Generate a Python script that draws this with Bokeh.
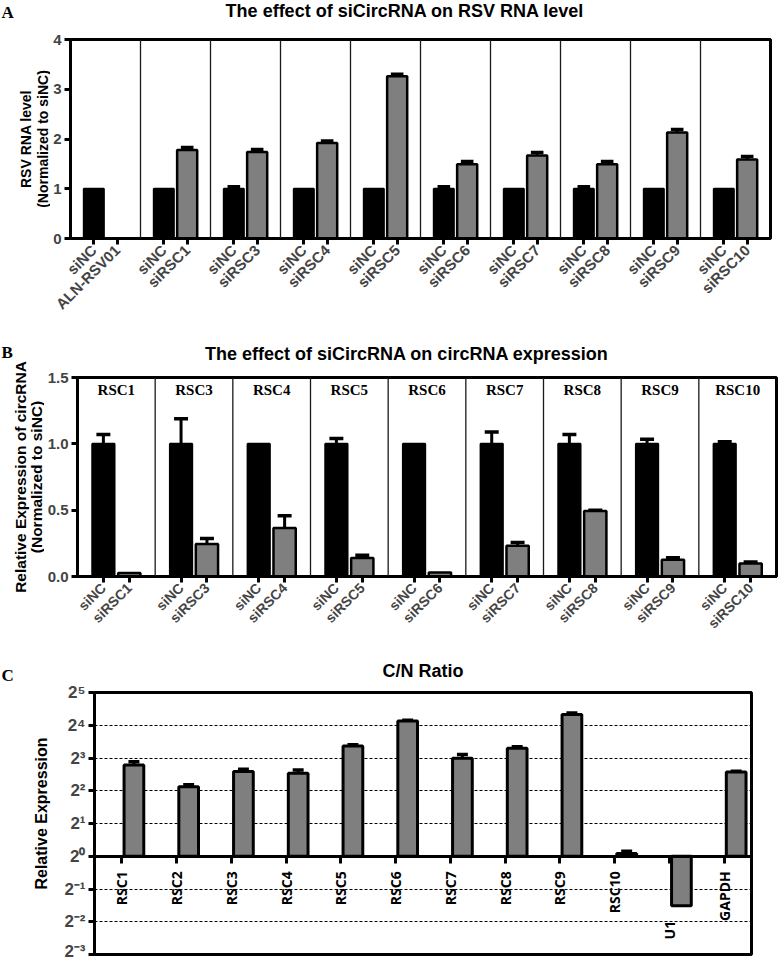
import math
from bokeh.plotting import figure
from bokeh.layouts import column, row
from bokeh.models import Range1d, FixedTicker, Span, ColumnDataSource, FactorRange
from bokeh.transform import dodge
from bokeh.core.properties import value
from bokeh.embed import file_html
from bokeh.resources import INLINE

# ---------------- data ----------------
# Panel A: RSV RNA level
a_tick_labels = ["siNC", "ALN-RSV01", "siNC", "siRSC1", "siNC", "siRSC3", "siNC", "siRSC4",
                 "siNC", "siRSC5", "siNC", "siRSC6", "siNC", "siRSC7", "siNC", "siRSC8",
                 "siNC", "siRSC9", "siNC", "siRSC10"]
a_nc = [1.0, 1.0, 1.0, 1.0, 1.0, 1.0, 1.0, 1.0, 1.0, 1.0]
a_nc_err = [0.0, 0.0, 0.04, 0.0, 0.0, 0.04, 0.0, 0.04, 0.0, 0.0]
a_si = [0.0, 1.78, 1.74, 1.92, 3.26, 1.49, 1.67, 1.49, 2.13, 1.59]
a_si_err = [0.0, 0.05, 0.05, 0.04, 0.04, 0.06, 0.06, 0.06, 0.06, 0.06]
a_title = "The effect of siCircRNA on RSV RNA level"
a_ylabel = ["RSV RNA level", "(Normalized to siNC)"]

# Panel B: circRNA expression
b_groups = ["RSC1", "RSC3", "RSC4", "RSC5", "RSC6", "RSC7", "RSC8", "RSC9", "RSC10"]
b_tick_labels = ["siNC", "siRSC1", "siNC", "siRSC3", "siNC", "siRSC4", "siNC", "siRSC5",
                 "siNC", "siRSC6", "siNC", "siRSC7", "siNC", "siRSC8", "siNC", "siRSC9",
                 "siNC", "siRSC10"]
b_nc = [1.0, 1.0, 1.0, 1.0, 1.0, 1.0, 1.0, 1.0, 1.0]
b_nc_err = [0.07, 0.19, 0.0, 0.04, 0.0, 0.09, 0.07, 0.035, 0.015]
b_si = [0.026, 0.245, 0.365, 0.139, 0.03, 0.232, 0.494, 0.126, 0.098]
b_si_err = [0.0, 0.042, 0.093, 0.021, 0.0, 0.025, 0.006, 0.015, 0.012]
b_title = "The effect of siCircRNA on circRNA expression"
b_ylabel = ["Relative Expression of circRNA", "(Normalized to siNC)"]

# Panel C: C/N ratio
c_cats = ["RSC1", "RSC2", "RSC3", "RSC4", "RSC5", "RSC6", "RSC7", "RSC8", "RSC9",
          "RSC10", "U1", "GAPDH"]
c_vals = [6.9, 4.35, 6.0, 5.8, 10.3, 17.5, 7.95, 9.85, 20.1, 1.06, 0.35, 5.94]
c_err = [0.5, 0.2, 0.3, 0.4, 0.3, 0.3, 0.65, 0.3, 0.6, 0.05, 0.0, 0.1]
c_exps = [5, 4, 3, 2, 1, 0, -1, -2, -3]
c_exp_labels = ["2⁵", "2⁴", "2³", "2²", "2¹", "2⁰", "2⁻¹", "2⁻²", "2⁻³"]
c_title = "C/N Ratio"
c_ylabel = ["Relative Expression"]

SANS = "Liberation Sans"
SERIF = "Liberation Serif"
GRAY = "#7f7f7f"
TOTAL_W = 780


def blank(width, height):
    p = figure(width=width, height=height, x_range=Range1d(0, width), y_range=Range1d(0, height),
               min_border_left=0, min_border_right=0, min_border_top=0, min_border_bottom=0,
               x_axis_location=None, y_axis_location=None, output_backend="svg",
               toolbar_location=None, tools="")
    p.outline_line_color = None
    p.grid.visible = False
    return p


def header(width, height, title, title_cx, title_cy):
    p = blank(width, height)
    p.text(x=[title_cx], y=[height - title_cy], text=[title], text_font=value(SANS),
           text_font_style="bold", text_font_size="18px", text_align="center",
           text_baseline="middle", text_color="black")
    return p


def strip(width, height, letter, letter_top, lines, xs, cy_from_top, size):
    p = blank(width, height)
    p.text(x=[1], y=[height - letter_top], text=[letter], text_font=value(SERIF),
           text_font_style="bold", text_font_size="17px", text_align="left",
           text_baseline="top", text_color="black")
    for line, x in zip(lines, xs):
        p.text(x=[x], y=[height - cy_from_top], text=[line], angle=math.pi / 2,
               text_font=value(SANS), text_font_style="bold", text_font_size=size,
               text_align="center", text_baseline="middle", text_color="black")
    return p


def style_axes(p):
    for ax in p.xaxis + p.yaxis:
        ax.axis_line_width = 3
        ax.major_tick_line_width = 3
        ax.major_tick_out = 6
        ax.major_tick_in = 0
        ax.minor_tick_line_color = None
        ax.major_label_text_font = SANS
        ax.major_label_text_font_style = "bold"
        ax.major_label_standoff = 3
    p.outline_line_color = "black"
    p.outline_line_width = 3
    p.outline_line_alpha = 1
    p.xgrid.visible = False
    p.ygrid.visible = False


def grouped_panel(nc, nc_err, si, si_err, tick_labels, y_end, yticks,
                  width, height, left, right, top, bottom, xlab_size):
    n = len(nc)
    p = figure(width=width, height=height, min_border_left=left, min_border_right=right,
               min_border_top=top, min_border_bottom=bottom,
               x_range=Range1d(0, 3 * n), y_range=Range1d(0, y_end),
               output_backend="svg", toolbar_location=None, tools="")
    x_nc = [3 * i + 1 for i in range(n)]
    x_si = [3 * i + 2 for i in range(n)]
    w = 0.86
    p.vbar(x=x_nc, top=nc, bottom=0, width=w, fill_color="black", line_color="black", line_width=2)
    p.vbar(x=x_si, top=si, bottom=0, width=w, fill_color=GRAY, line_color="black", line_width=2.5)
    ex, ey0, ey1 = [], [], []
    for xs, vals, errs in ((x_nc, nc, nc_err), (x_si, si, si_err)):
        for xx, v, e in zip(xs, vals, errs):
            if e > 0:
                ex.append(xx); ey0.append(v); ey1.append(v + e)
    p.segment(x0=ex, y0=ey0, x1=ex, y1=ey1, line_color="black", line_width=3)
    p.segment(x0=[xx - 0.27 for xx in ex], y0=ey1, x1=[xx + 0.27 for xx in ex], y1=ey1,
              line_color="black", line_width=3.5)
    for g in range(1, n):
        p.add_layout(Span(location=3 * g, dimension="height", line_color="#1a1a1a", line_width=1.3))
    style_axes(p)
    ticks = sorted(x_nc + x_si)
    p.xaxis.ticker = FixedTicker(ticks=ticks)
    p.xaxis.major_label_overrides = {t: lab for t, lab in zip(ticks, tick_labels)}
    p.xaxis.major_label_orientation = math.pi / 4
    p.xaxis.major_label_text_font_size = xlab_size
    p.yaxis.ticker = FixedTicker(ticks=yticks)
    p.yaxis.major_label_text_font_size = "15px"
    return p


# ---------------- Panel A (page y 0..330) ----------------
SA = 50
hA = header(TOTAL_W - SA, 31, a_title, 399 - SA, 10)
mA = grouped_panel(a_nc, a_nc_err, a_si, a_si_err, a_tick_labels, 4, [0, 1, 2, 3, 4],
                   TOTAL_W - SA, 299, 20, 10, 8, 92, "15px")
sA = strip(SA, 330, "A", 2, a_ylabel, [25, 42], 138.5, "14px")
panelA = row(sA, column(hA, mA))

# ---------------- Panel B (page y 330..640) ----------------
SB = 44
hB = header(TOTAL_W - SB, 35, b_title, 391 - SB, 23)
mB = grouped_panel(b_nc, b_nc_err, b_si, b_si_err, b_tick_labels, 1.5, [0, 0.5, 1.0, 1.5],
                   TOTAL_W - SB, 275, 33, 4, 12, 64, "14px")
mB.yaxis.major_label_overrides = {0: "0.0", 0.5: "0.5", 1.0: "1.0", 1.5: "1.5"}
mB.text(x=[3 * i + 1.5 for i in range(len(b_groups))], y=[1.5 * 0.935] * len(b_groups),
        text=b_groups, text_font=value(SERIF), text_font_style="bold", text_font_size="15px",
        text_align="center", text_baseline="middle", text_color="black")
sB = strip(SB, 310, "B", 12, b_ylabel, [20, 36], 146.5, "15.5px")
panelB = row(sB, column(hB, mB))

# ---------------- Panel C (page y 640..960) ----------------
SC = 52
hC = header(TOTAL_W - SC, 40, c_title, 416 - SC, 30)
c_hi = [v + e for v, e in zip(c_vals, c_err)]
c_anchor = [min(v, 1.0) for v in c_vals]
src = ColumnDataSource(dict(cat=c_cats, val=c_vals, hi=c_hi, anchor=c_anchor))
mC = figure(width=TOTAL_W - SC, height=280, min_border_left=42, min_border_right=29,
            min_border_top=12, min_border_bottom=6,
            x_range=FactorRange(*c_cats), y_range=Range1d(2 ** -3, 2 ** 5), y_axis_type="log",
            output_backend="svg", toolbar_location=None, tools="")
mC.vbar(x=dodge("cat", 0.22, range=mC.x_range), top="val", bottom=1, width=0.36, source=src,
        fill_color=GRAY, line_color="black", line_width=3)
err_src = ColumnDataSource(dict(cat=[c for c, e in zip(c_cats, c_err) if e > 0],
                                val=[v for v, e in zip(c_vals, c_err) if e > 0],
                                hi=[h for h, e in zip(c_hi, c_err) if e > 0]))
mC.segment(x0=dodge("cat", 0.22, range=mC.x_range), y0="val",
           x1=dodge("cat", 0.22, range=mC.x_range), y1="hi", source=err_src,
           line_color="black", line_width=3)
mC.segment(x0=dodge("cat", 0.12, range=mC.x_range), y0="hi",
           x1=dodge("cat", 0.32, range=mC.x_range), y1="hi", source=err_src,
           line_color="black", line_width=3.5)
mC.text(x="cat", y="anchor", text="cat", source=src, angle=math.pi / 2, y_offset=15,
        text_font=value("Open Sans"), text_font_style="bold", text_font_size="14px",
        text_align="right", text_baseline="middle", text_color="black")
style_axes(mC)
mC.ygrid.visible = True
mC.ygrid.ticker = FixedTicker(ticks=[2.0 ** k for k in c_exps if k not in (5, 0, -3)])
mC.ygrid.grid_line_color = "black"
mC.ygrid.grid_line_dash = "3 2"
mC.ygrid.grid_line_width = 1
mC.yaxis.ticker = FixedTicker(ticks=[2.0 ** k for k in c_exps])
mC.yaxis.major_label_overrides = {2.0 ** k: lab for k, lab in zip(c_exps, c_exp_labels)}
mC.yaxis.major_label_text_font_size = "17px"
mC.xaxis.fixed_location = 1
mC.xaxis.major_label_text_color = None
mC.xaxis.major_label_text_font_size = "1px"
mC.xaxis.major_label_standoff = 0
mC.xaxis.major_tick_out = 7
sC = strip(SC, 320, "C", 25, c_ylabel, [41], 173, "16px")
panelC = row(sC, column(hC, mC))

layout = column(panelA, panelB, panelC)
open("out.html", "w").write(file_html(layout, INLINE))
